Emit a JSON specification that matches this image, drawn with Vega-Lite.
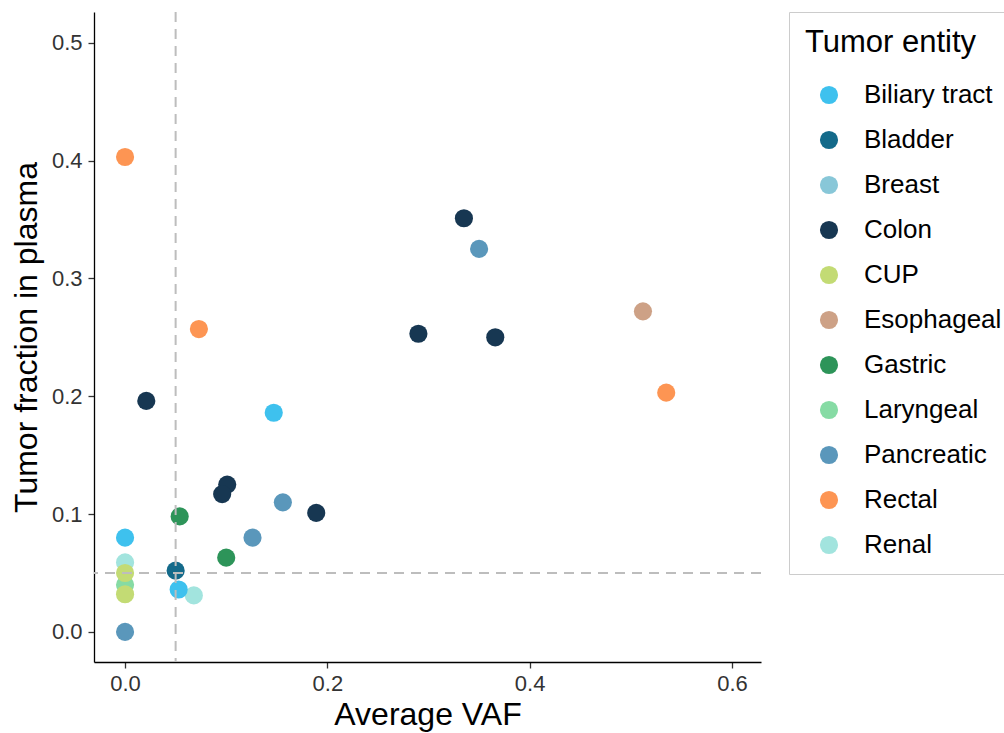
{
  "$schema": "https://vega.github.io/schema/vega-lite/v6.json",
  "autosize": "none",
  "width": 667,
  "height": 650,
  "padding": {"left": 94, "top": 12, "right": 243, "bottom": 71},
  "background": "white",
  "config": {
    "view": {"stroke": null},
    "font": "Liberation Sans",
    "axis": {
      "grid": false,
      "domainColor": "#000000",
      "domainWidth": 1.3,
      "tickColor": "#333333",
      "tickWidth": 1.3,
      "tickSize": 6,
      "labelFont": "Liberation Sans",
      "labelFontSize": 22,
      "labelColor": "#333333",
      "titleFont": "Liberation Sans",
      "titleFontSize": 32,
      "titleFontWeight": "normal",
      "titleColor": "#000000"
    }
  },
  "datasets": {
    "pts": [
      {"vaf": 0.0, "tf": 0.403, "entity": "Rectal"},
      {"vaf": 0.073, "tf": 0.257, "entity": "Rectal"},
      {"vaf": 0.535, "tf": 0.203, "entity": "Rectal"},
      {"vaf": 0.512, "tf": 0.272, "entity": "Esophageal"},
      {"vaf": 0.335, "tf": 0.351, "entity": "Colon"},
      {"vaf": 0.350, "tf": 0.325, "entity": "Pancreatic"},
      {"vaf": 0.290, "tf": 0.253, "entity": "Colon"},
      {"vaf": 0.366, "tf": 0.250, "entity": "Colon"},
      {"vaf": 0.021, "tf": 0.196, "entity": "Colon"},
      {"vaf": 0.147, "tf": 0.186, "entity": "Biliary tract"},
      {"vaf": 0.101, "tf": 0.125, "entity": "Colon"},
      {"vaf": 0.096, "tf": 0.117, "entity": "Colon"},
      {"vaf": 0.156, "tf": 0.110, "entity": "Pancreatic"},
      {"vaf": 0.189, "tf": 0.101, "entity": "Colon"},
      {"vaf": 0.054, "tf": 0.098, "entity": "Gastric"},
      {"vaf": 0.126, "tf": 0.080, "entity": "Pancreatic"},
      {"vaf": 0.100, "tf": 0.063, "entity": "Gastric"},
      {"vaf": 0.068, "tf": 0.031, "entity": "Renal"},
      {"vaf": 0.053, "tf": 0.036, "entity": "Biliary tract"},
      {"vaf": 0.050, "tf": 0.052, "entity": "Bladder"},
      {"vaf": 0.0, "tf": 0.0, "entity": "Pancreatic"},
      {"vaf": 0.0, "tf": 0.080, "entity": "Biliary tract"},
      {"vaf": 0.0, "tf": 0.040, "entity": "Laryngeal"},
      {"vaf": 0.0, "tf": 0.059, "entity": "Renal"},
      {"vaf": 0.0, "tf": 0.032, "entity": "CUP"},
      {"vaf": 0.0, "tf": 0.050, "entity": "CUP"}
    ],
    "vline": [{"x": 0.05}],
    "hline": [{"y": 0.05}]
  },
  "layer": [
    {
      "data": {"name": "pts"},
      "mark": {"type": "point", "filled": true, "opacity": 1, "size": 330, "shape": "circle"},
      "encoding": {
        "x": {
          "field": "vaf", "type": "quantitative",
          "scale": {"domain": [-0.0307, 0.6287], "nice": false, "zero": false},
          "axis": {"values": [0, 0.2, 0.4, 0.6], "format": ".1f", "title": "Average VAF", "labelPadding": 5, "titlePadding": 5}
        },
        "y": {
          "field": "tf", "type": "quantitative",
          "scale": {"domain": [-0.0255, 0.526], "nice": false, "zero": false},
          "axis": {"values": [0, 0.1, 0.2, 0.3, 0.4, 0.5], "format": ".1f", "title": "Tumor fraction in plasma", "labelPadding": 6, "titlePadding": 8}
        },
        "color": {
          "field": "entity", "type": "nominal",
          "scale": {
            "domain": ["Biliary tract", "Bladder", "Breast", "Colon", "CUP", "Esophageal", "Gastric", "Laryngeal", "Pancreatic", "Rectal", "Renal"],
            "range": ["#3EC1EE", "#146A8A", "#88C7D8", "#173752", "#C3DB74", "#CDA186", "#2D9459", "#86DBA4", "#5A97BB", "#FD9553", "#A2E4DE"]
          },
          "legend": {
            "title": "Tumor entity",
            "orient": "none",
            "legendX": 695,
            "legendY": 0,
            "padding": 16,
            "strokeColor": "#cccccc",
            "fillColor": "white",
            "titleFont": "Liberation Sans",
            "titleFontSize": 31,
            "titleFontWeight": "normal",
            "titleColor": "#000000",
            "titlePadding": 23,
            "labelFont": "Liberation Sans",
            "labelFontSize": 26,
            "labelColor": "#000000",
            "labelOffset": 22,
            "symbolOffset": 11,
            "symbolType": "circle",
            "symbolSize": 330,
            "symbolStrokeWidth": 0,
            "rowPadding": 19,
            "labelLimit": 300
          }
        }
      }
    },
    {
      "data": {"name": "vline"},
      "mark": {"type": "rule", "color": "#bdbdbd", "strokeWidth": 2, "strokeDash": [10, 7]},
      "encoding": {"x": {"field": "x", "type": "quantitative"}}
    },
    {
      "data": {"name": "hline"},
      "mark": {"type": "rule", "color": "#bdbdbd", "strokeWidth": 2, "strokeDash": [10, 7]},
      "encoding": {"y": {"field": "y", "type": "quantitative"}}
    }
  ]
}
